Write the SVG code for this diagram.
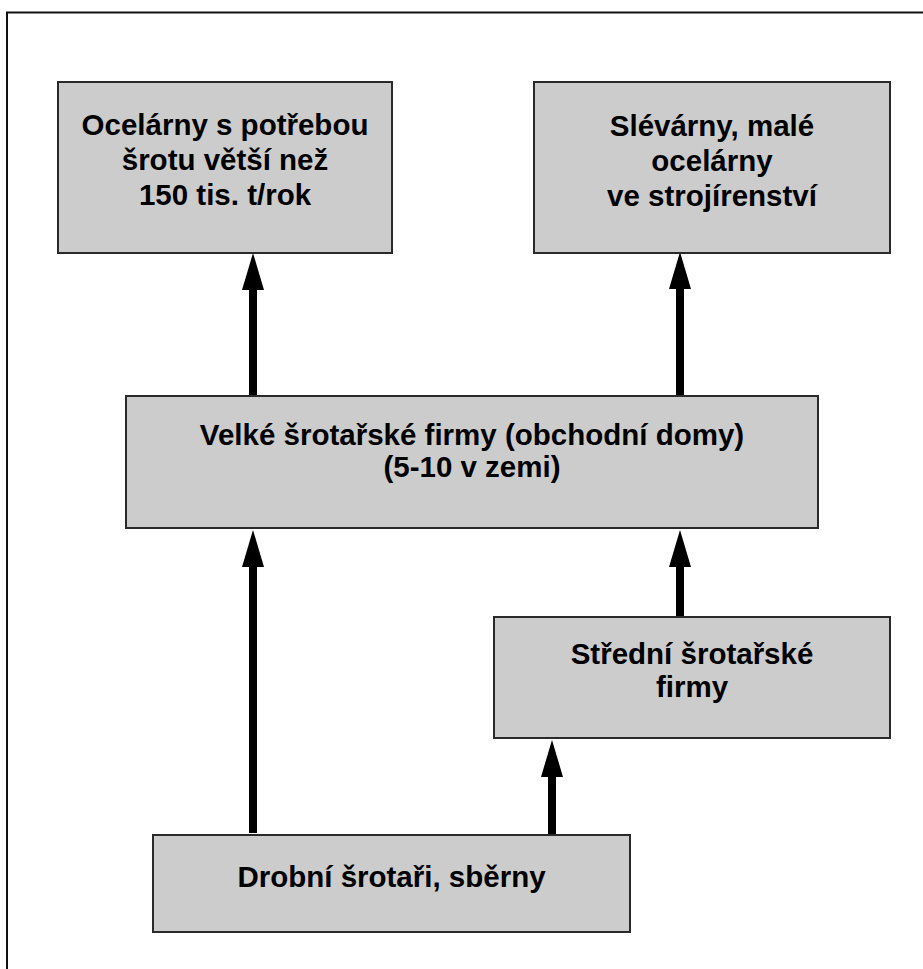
<svg xmlns="http://www.w3.org/2000/svg" width="923" height="969" viewBox="0 0 923 969">
<defs>
<style>
.box{fill:#cccccc;stroke:#2a2a2a;stroke-width:2}
.t{font-family:"Liberation Sans",Arial,Helvetica,sans-serif;font-weight:bold;font-size:29.5px;fill:#000;text-anchor:middle}
.c{stroke:#000;stroke-width:8;fill:none;marker-end:url(#ah)}
</style>
<marker id="ah" markerUnits="userSpaceOnUse" markerWidth="40" markerHeight="24" viewBox="0 -12 40 24" refX="0" refY="0" orient="auto">
<path d="M0,-11 L37,0 L0,11 Z" fill="#000"/>
</marker>
</defs>
<rect x="0" y="0" width="923" height="969" fill="#fff"/>
<rect x="7" y="12.5" width="1000" height="1000" fill="none" stroke="#111" stroke-width="2"/>
<g id="connectors">
<line class="c" x1="253" y1="396" x2="253" y2="290"/>
<line class="c" x1="680" y1="396" x2="680" y2="289"/>
<line class="c" x1="253" y1="833" x2="253" y2="567"/>
<line class="c" x1="680" y1="617" x2="680" y2="567"/>
<line class="c" x1="552" y1="835" x2="552" y2="777"/>
</g>
<g id="n1">
<rect class="box" x="58" y="82" width="334" height="171"/>
<text class="t" x="225" y="135">Ocelárny s potřebou</text>
<text class="t" x="225" y="170">šrotu větší než</text>
<text class="t" x="225" y="205">150 tis. t/rok</text>
</g>
<g id="n2">
<rect class="box" x="534" y="82" width="356" height="171"/>
<text class="t" x="712" y="136">Slévárny, malé</text>
<text class="t" x="712" y="171">ocelárny</text>
<text class="t" x="712" y="206">ve strojírenství</text>
</g>
<g id="n3">
<rect class="box" x="126" y="396" width="692" height="132"/>
<text class="t" x="472" y="445">Velké šrotařské firmy (obchodní domy)</text>
<text class="t" x="472" y="477">(5-10 v zemi)</text>
</g>
<g id="n4">
<rect class="box" x="494" y="617" width="396" height="121"/>
<text class="t" x="692" y="664">Střední šrotařské</text>
<text class="t" x="692" y="697">firmy</text>
</g>
<g id="n5">
<rect class="box" x="153" y="835" width="477" height="97"/>
<text class="t" x="391.5" y="887">Drobní šrotaři, sběrny</text>
</g>
</svg>
